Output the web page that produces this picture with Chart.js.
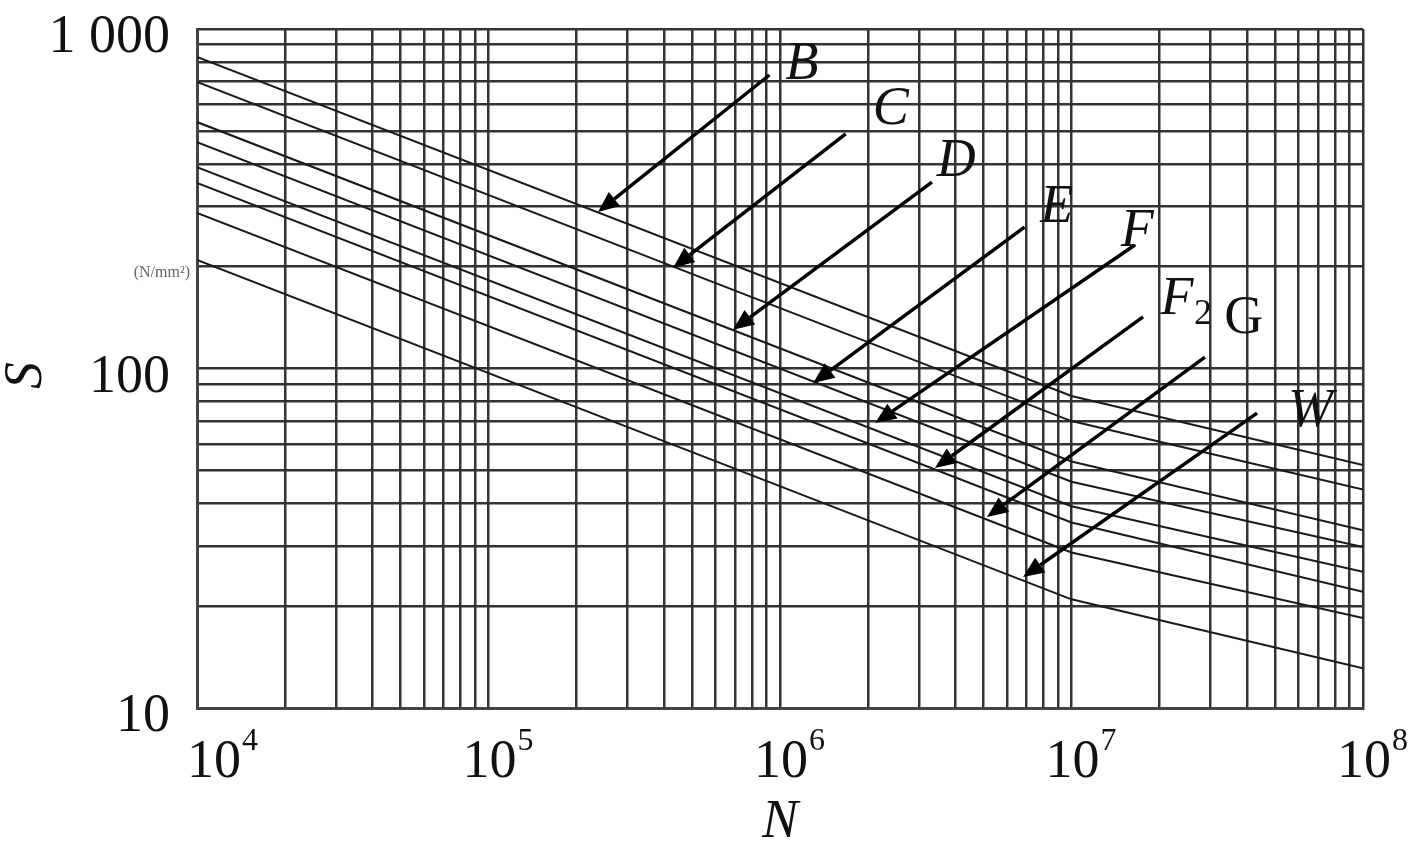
<!DOCTYPE html>
<html>
<head>
<meta charset="utf-8">
<script src="https://cdn.jsdelivr.net/npm/chart.js@4.4.0/dist/chart.umd.min.js"></script>
<style>
  body { margin: 0; background: #fff; }
</style>
</head>
<body>
<canvas id="graph" width="1417" height="843"></canvas>
<script>
// N where each curve was read: start, knee, end
var cycles = [1e4, 1e7, 1e8];

// S (N/mm2) for each class
var curveB = [827, 83, 52];
var curveC = [698, 70, 44];
var curveD = [532, 53.2, 33.4];
var curveE = [464, 46.4, 29.8];
var curveF = [392, 39.3, 25.2];
var curveF2 = [352, 35.2, 22];
var curveG = [287, 28.7, 18.4];
var curveW = [209, 20.9, 13.1];

var classNames = ['B', 'C', 'D', 'E', 'F', 'F2', 'G', 'W'];

// labels and arrows, in (N, S)
var labelAt = [[1.19e6, 783], [2.4e6, 577], [4.02e6, 406], [8.9e6, 297], [1.68e7, 252], [2.3e7, 159], [3.9e7, 140], [6.6e7, 74.4]];
var arrowTail = [[9.2e5, 732], [1.68e6, 491], [3.32e6, 354], [6.9e6, 261], [1.65e7, 231], [1.76e7, 142], [2.87e7, 108], [4.33e7, 73.9]];
var arrowTip = [[2.375e5, 289], [4.3e5, 198], [6.9e5, 130], [1.3e6, 90.6], [2.12e6, 69.1], [3.4e6, 50.9], [5.13e6, 36.5], [6.82e6, 24.3]];

var xTicks = [1e4, 1e5, 1e6, 1e7, 1e8];
var xTickExp = ['4', '5', '6', '7', '8'];
var yTicks = [10, 100, 1000];
var yTickLabels = ['10', '100', '1 000'];

var serif = '"Liberation Serif", "Times New Roman", serif';

function gridValues(lo, hi) {
  var out = [];
  for (var d = lo; d < hi; d *= 10) {
    for (var k = 1; k < 10; k++) out.push({ value: k * d });
  }
  out.push({ value: hi });
  return out;
}

function series(vals) {
  return vals.map(function (s, i) { return { x: cycles[i], y: s }; });
}

var allCurves = [curveB, curveC, curveD, curveE, curveF, curveF2, curveG, curveW];
var datasets = allCurves.map(function (c, i) {
  return {
    label: classNames[i],
    data: series(c),
    borderColor: '#1a1a1a',
    borderWidth: 2,
    pointRadius: 0,
    fill: false,
    tension: 0
  };
});

var overlay = {
  id: 'overlay',
  afterDraw: function (chart) {
    var ctx = chart.ctx, xs = chart.scales.x, ys = chart.scales.y, area = chart.chartArea;
    ctx.save();

    // arrows
    ctx.strokeStyle = '#000';
    ctx.fillStyle = '#000';
    ctx.lineWidth = 3.5;
    for (var i = 0; i < arrowTip.length; i++) {
      var x0 = xs.getPixelForValue(arrowTail[i][0]), y0 = ys.getPixelForValue(arrowTail[i][1]);
      var x1 = xs.getPixelForValue(arrowTip[i][0]), y1 = ys.getPixelForValue(arrowTip[i][1]);
      var a = Math.atan2(y1 - y0, x1 - x0);
      var len = 21, half = 9;
      var bx = x1 - len * Math.cos(a), by = y1 - len * Math.sin(a);
      ctx.beginPath();
      ctx.moveTo(x0, y0);
      ctx.lineTo(bx, by);
      ctx.stroke();
      ctx.beginPath();
      ctx.moveTo(x1, y1);
      ctx.lineTo(bx + half * Math.sin(a), by - half * Math.cos(a));
      ctx.lineTo(bx - half * Math.sin(a), by + half * Math.cos(a));
      ctx.closePath();
      ctx.fill();
    }

    // class labels
    ctx.fillStyle = '#111';
    ctx.textBaseline = 'middle';
    ctx.textAlign = 'center';
    for (var j = 0; j < classNames.length; j++) {
      var lx = xs.getPixelForValue(labelAt[j][0]), ly = ys.getPixelForValue(labelAt[j][1]);
      var name = classNames[j];
      if (name === 'F2') {
        ctx.font = 'italic 54px ' + serif;
        ctx.fillText('F', lx, ly);
        ctx.font = '36px ' + serif;
        ctx.fillText('2', lx + 26, ly + 14);
      } else {
        ctx.font = (name === 'G' ? '' : 'italic ') + '54px ' + serif;
        ctx.fillText(name, lx, ly);
      }
    }

    // y tick labels
    ctx.font = '54px ' + serif;
    ctx.textAlign = 'right';
    ctx.textBaseline = 'alphabetic';
    yTicks.forEach(function (v, k) {
      ctx.fillText(yTickLabels[k], area.left - 27, ys.getPixelForValue(v) + 23);
    });

    // unit
    ctx.font = '16px ' + serif;
    ctx.fillStyle = '#666';
    ctx.textBaseline = 'middle';
    ctx.fillText('(N/mm\u00b2)', area.left - 7, ys.getPixelForValue(200) + 6);

    // x tick labels 10^n
    ctx.fillStyle = '#111';
    ctx.textAlign = 'left';
    ctx.textBaseline = 'alphabetic';
    xTicks.forEach(function (v, k) {
      ctx.font = '54px ' + serif;
      var w10 = ctx.measureText('10').width;
      ctx.font = '32px ' + serif;
      var we = ctx.measureText(xTickExp[k]).width;
      var px = xs.getPixelForValue(v);
      var left = Math.max(px + 9 - (w10 + we) / 2, area.left - 10);
      ctx.font = '54px ' + serif;
      ctx.fillText('10', left, area.bottom + 69);
      ctx.font = '32px ' + serif;
      ctx.fillText(xTickExp[k], left + w10 + 1, area.bottom + 42);
    });

    // axis titles
    ctx.font = 'italic 54px ' + serif;
    ctx.textAlign = 'center';
    ctx.fillText('N', (area.left + area.right) / 2, area.bottom + 129);
    ctx.save();
    ctx.translate(area.left - 170, (area.top + area.bottom) / 2 + 7);
    ctx.rotate(-Math.PI / 2);
    ctx.textBaseline = 'middle';
    ctx.fillText('S', 0, 0);
    ctx.restore();

    ctx.restore();
  }
};

var graph = document.getElementById('graph').getContext('2d');

var myChart = new Chart(graph, {
  type: 'line',
  data: { datasets: datasets },
  options: {
    responsive: false,
    animation: false,
    layout: { padding: { left: 197, right: 54, top: 29, bottom: 135 } },
    scales: {
      x: {
        type: 'logarithmic',
        min: 1e4,
        max: 1e8,
        afterBuildTicks: function (axis) { axis.ticks = gridValues(1e4, 1e8); },
        ticks: { display: false },
        grid: { color: '#333', lineWidth: 2.5, drawTicks: false },
        border: { color: '#444', width: 3 }
      },
      y: {
        type: 'logarithmic',
        min: 10,
        max: 1000,
        afterBuildTicks: function (axis) { axis.ticks = gridValues(10, 1000); },
        ticks: { display: false },
        grid: { color: '#333', lineWidth: 2.5, drawTicks: false },
        border: { color: '#444', width: 3 }
      }
    },
    plugins: {
      legend: { display: false },
      tooltip: { enabled: false }
    }
  },
  plugins: [overlay]
});
</script>
</body>
</html>
